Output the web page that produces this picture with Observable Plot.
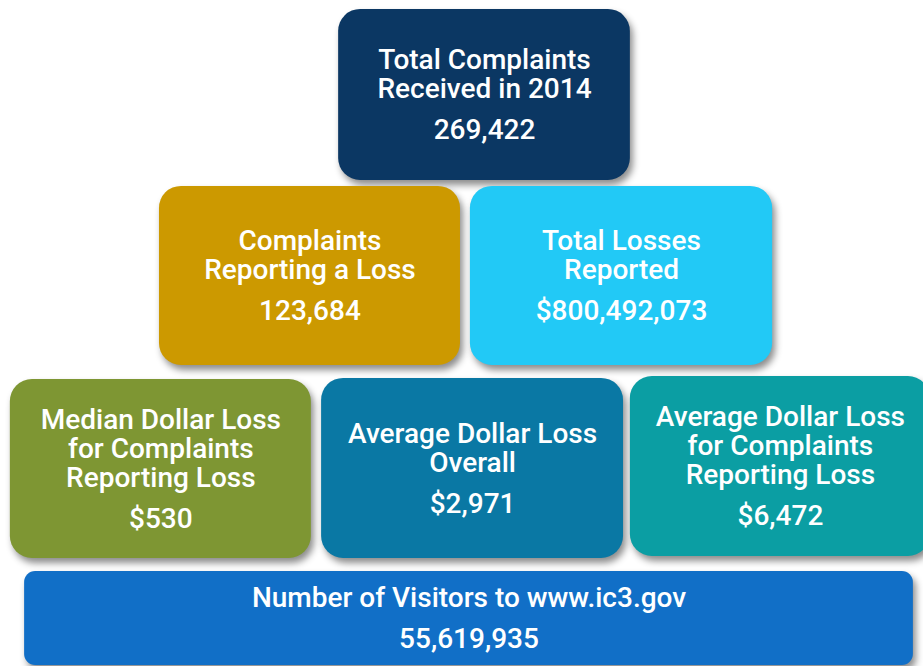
<!DOCTYPE html>
<html><head><meta charset="utf-8">
<script src="https://cdn.jsdelivr.net/npm/d3@7"></script>
<script src="https://cdn.jsdelivr.net/npm/@observablehq/plot@0.6"></script>
<style>
body{margin:0;background:#fff}
#chart svg g[aria-label="rect"] rect{filter:drop-shadow(3px 5px 3.5px rgba(0,0,0,0.45))}
</style></head><body><div id="chart"></div>
<script>
// Content
const labels = [
  "Total Complaints\nReceived in 2014",
  "Complaints\nReporting a Loss",
  "Total Losses\nReported",
  "Median Dollar Loss\nfor Complaints\nReporting Loss",
  "Average Dollar Loss\nOverall",
  "Average Dollar Loss\nfor Complaints\nReporting Loss",
  "Number of Visitors to www.ic3.gov"
];
const values = ["269,422", "123,684", "$800,492,073", "$530", "$2,971", "$6,472", "55,619,935"];
const colors = ["#0b3763", "#cc9900", "#22c9f6", "#7e9633", "#0a78a4", "#0b9ea3", "#116fc7"];

// Layout in grid units (columns of the pyramid, rows of the pyramid)
const colStart = [1.065, 0.487, 1.490, 0.006, 1.010, 2.006, 0.052];
const colEnd   = [2.006, 1.458, 2.465, 0.977, 1.984, 2.974, 2.919];
const rowStart = [0.047, 0.977, 0.977, 1.992, 1.986, 1.976, 3.001];
const rowEnd   = [0.946, 1.918, 1.918, 2.932, 2.932, 2.922, 3.495];

const W = 923, H = 666, yMax = 3.5;
const pxPerRow = H / yMax;
const boxes = labels.map((label, i) => {
  const n = label.split("\n").length;
  const cx = (colStart[i] + colEnd[i]) / 2;
  const cy = (rowStart[i] + rowEnd[i]) / 2;
  return {
    label, value: values[i], color: colors[i],
    x1: colStart[i], x2: colEnd[i], y1: rowStart[i], y2: rowEnd[i],
    cx, labelY: cy - 20.5 / pxPerRow, valueY: cy + ((n - 1) * 14.5 + 20.5) / pxPerRow,
    bar: i === labels.length - 1
  };
});

const textStyle = {fill: "white", fontFamily: "Roboto", fontWeight: 500, fontSize: 28, lineHeight: 29 / 28};

const chart = Plot.plot({
  width: W, height: H, margin: 0,
  x: {domain: [0, 3], range: [8, 938], axis: null},
  y: {domain: [0, yMax], range: [0, H], axis: null},
  color: {type: "identity"},
  marks: [
    Plot.rect(boxes.filter(d => !d.bar), {x1: "x1", x2: "x2", y1: "y1", y2: "y2", fill: "color", rx: 22}),
    Plot.rect(boxes.filter(d => d.bar), {x1: "x1", x2: "x2", y1: "y1", y2: "y2", fill: "color", rx: 11}),
    Plot.text(boxes, {x: "cx", y: "labelY", text: "label", ...textStyle}),
    Plot.text(boxes, {x: "cx", y: "valueY", text: "value", ...textStyle})
  ]
});
document.getElementById("chart").append(chart);
</script></body></html>
